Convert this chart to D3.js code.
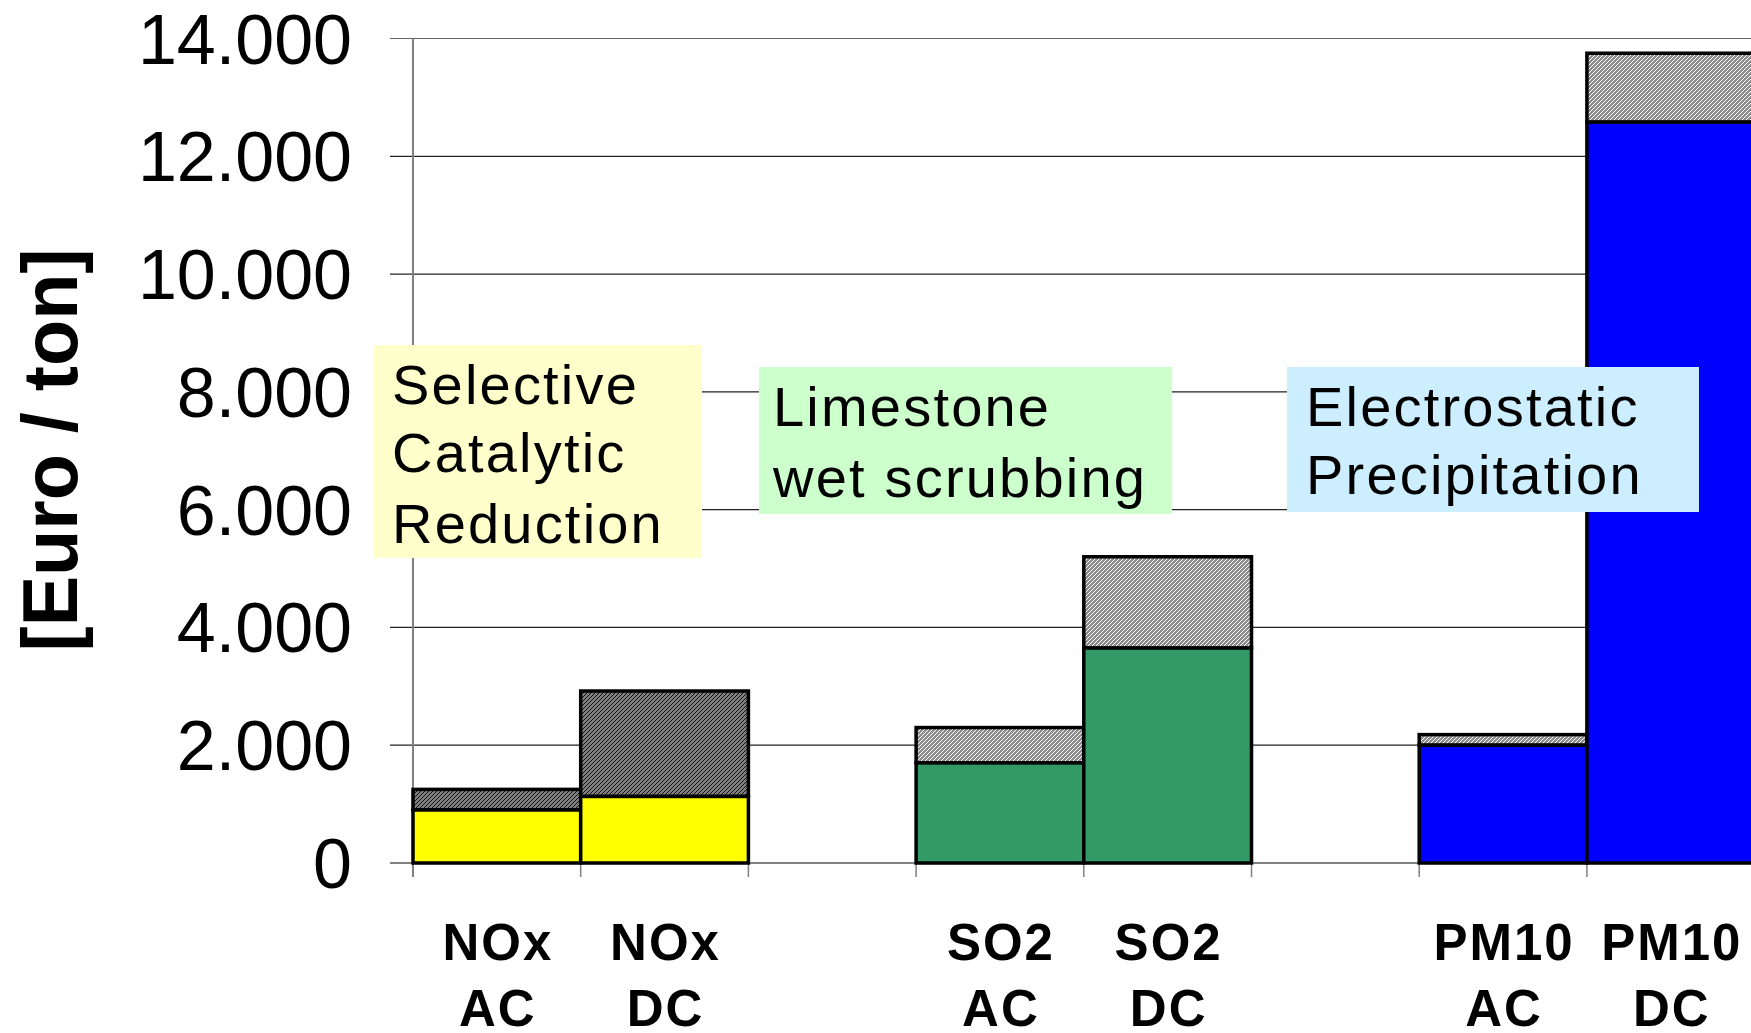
<!DOCTYPE html>
<html>
<head>
<meta charset="utf-8">
<script src="https://cdn.jsdelivr.net/npm/d3@7"></script>
<style>
  html, body { margin: 0; padding: 0; background: #fff; }
  svg { display: block; }
</style>
</head>
<body>
<svg id="chart" width="1751" height="1033"></svg>
<script>
// ---- data ----
const categories = ["NOx AC", "NOx DC", "gap1", "SO2 AC", "SO2 DC", "gap2", "PM10 AC", "PM10 DC"];
const labelLine1 = ["NOx", "NOx", "", "SO2", "SO2", "", "PM10", "PM10"];
const labelLine2 = ["AC", "DC", "", "AC", "DC", "", "AC", "DC"];
const baseCost  = [900, 1130, null, 1700, 3650, null, 2000, 12580];
const extraCost = [350, 1790, null, 600, 1550, null, 180, 1170];
const baseColor = ["#ffff00", "#ffff00", null, "#339966", "#339966", null, "#0000ff", "#0000ff"];
const extraHatch = ["dark", "dark", null, "light", "light", null, "light", "light"];
const yTicks = [0, 2000, 4000, 6000, 8000, 10000, 12000, 14000];
const yTitle = "[Euro / ton]";
const boxLines1 = ["Selective", "Catalytic", "Reduction"];
const boxLines2 = ["Limestone", "wet scrubbing"];
const boxLines3 = ["Electrostatic", "Precipitation"];

// ---- layout ----
const svg = d3.select("#chart");
const FONT = "'Liberation Sans', Arial, Helvetica, sans-serif";
const plotLeft = 413, plotTop = 38.5, plotBottom = 863;
const bandW = 167.7;
const x = d3.scaleBand().domain(categories).range([plotLeft, plotLeft + bandW * categories.length]).padding(0);
const y = d3.scaleLinear().domain([0, 14000]).range([plotBottom, plotTop]);
const fmt = d3.formatLocale({ decimal: ",", thousands: ".", grouping: [3], currency: ["", ""] }).format(",d");

// patterns
const defs = svg.append("defs");
function hatch(id, bg, fg, w) {
  const p = defs.append("pattern").attr("id", id).attr("patternUnits", "userSpaceOnUse")
    .attr("width", 4).attr("height", 4);
  p.append("rect").attr("width", 4).attr("height", 4).attr("fill", bg);
  p.append("path").attr("d", "M-1,1 L1,-1 M0,4 L4,0 M3,5 L5,3")
    .attr("stroke", fg).attr("stroke-width", w).attr("shape-rendering", "crispEdges");
}
hatch("hatch-dark", "#808080", "#111111", 1.4);
hatch("hatch-light", "#ffffff", "#8c8c8c", 1.6);

// gridlines (incl. outward ticks)
svg.append("g").selectAll("line").data(yTicks).join("line")
  .attr("x1", plotLeft - 23).attr("x2", 1751)
  .attr("y1", d => y(d)).attr("y2", d => y(d))
  .attr("stroke", d => d === 14000 ? "#666" : "#222").attr("stroke-width", 1.2);

// y axis line
svg.append("line").attr("x1", plotLeft).attr("x2", plotLeft)
  .attr("y1", plotTop).attr("y2", plotBottom + 14)
  .attr("stroke", "#808080").attr("stroke-width", 2);

// x axis tick marks at category boundaries
const bounds = categories.map(c => x(c)).concat([x(categories[categories.length - 1]) + x.bandwidth()]);
svg.append("g").selectAll("line").data(bounds).join("line")
  .attr("x1", d => d).attr("x2", d => d)
  .attr("y1", plotBottom).attr("y2", plotBottom + 14)
  .attr("stroke", "#808080").attr("stroke-width", 1.5);
svg.append("line").attr("x1", plotLeft - 23).attr("x2", 1751)
  .attr("y1", plotBottom).attr("y2", plotBottom)
  .attr("stroke", "#808080").attr("stroke-width", 2);

// y tick labels
svg.append("g").selectAll("text").data(yTicks).join("text")
  .attr("x", 352).attr("y", d => y(d) + 25)
  .attr("text-anchor", "end")
  .attr("font-family", FONT).attr("font-size", 70).attr("fill", "#000")
  .text(d => fmt(d));

// y title
svg.append("text")
  .attr("transform", "translate(77,450) rotate(-90)")
  .attr("text-anchor", "middle")
  .attr("font-family", FONT).attr("font-weight", "bold").attr("font-size", 78)
  .attr("textLength", 403).attr("lengthAdjust", "spacingAndGlyphs")
  .text(yTitle);

// bars
const idx = d3.range(categories.length).filter(i => baseCost[i] != null);
const bars = svg.append("g");
bars.selectAll("rect.extra").data(idx).join("rect").attr("class", "extra")
  .attr("x", i => x(categories[i])).attr("width", x.bandwidth())
  .attr("y", i => y(baseCost[i] + extraCost[i]))
  .attr("height", i => y(baseCost[i]) - y(baseCost[i] + extraCost[i]))
  .attr("fill", i => `url(#hatch-${extraHatch[i]})`)
  .attr("stroke", "#000").attr("stroke-width", 3.5);
bars.selectAll("rect.base").data(idx).join("rect").attr("class", "base")
  .attr("x", i => x(categories[i])).attr("width", x.bandwidth())
  .attr("y", i => y(baseCost[i]))
  .attr("height", i => y(0) - y(baseCost[i]))
  .attr("fill", i => baseColor[i])
  .attr("stroke", "#000").attr("stroke-width", 3.5);

// x labels
const xl = svg.append("g").attr("font-family", FONT).attr("font-weight", "bold")
  .attr("font-size", 51).attr("letter-spacing", 2).attr("text-anchor", "middle");
xl.selectAll("text.l1").data(idx).join("text").attr("class", "l1")
  .attr("x", i => x(categories[i]) + x.bandwidth() / 2 + 1).attr("y", 960)
  .text(i => labelLine1[i]);
xl.selectAll("text.l2").data(idx).join("text").attr("class", "l2")
  .attr("x", i => x(categories[i]) + x.bandwidth() / 2 + 1).attr("y", 1026)
  .text(i => labelLine2[i]);

// annotation boxes
function box(x0, y0, w, h, fill, lines, tx, baselines) {
  const g = svg.append("g");
  g.append("rect").attr("x", x0).attr("y", y0).attr("width", w).attr("height", h).attr("fill", fill);
  g.selectAll("text").data(lines).join("text")
    .attr("x", tx).attr("y", (d, i) => baselines[i])
    .attr("font-family", FONT).attr("font-size", 56).attr("letter-spacing", 2.2)
    .attr("fill", "#000").text(d => d);
}
box(374, 345, 328, 213, "#ffffcc", boxLines1, 392, [404, 472, 543]);
box(759, 367, 413, 147, "#ccffcc", boxLines2, 773, [426, 497]);
box(1287, 367, 412, 145, "#cceeff", boxLines3, 1306, [426, 494]);
</script>
</body>
</html>
